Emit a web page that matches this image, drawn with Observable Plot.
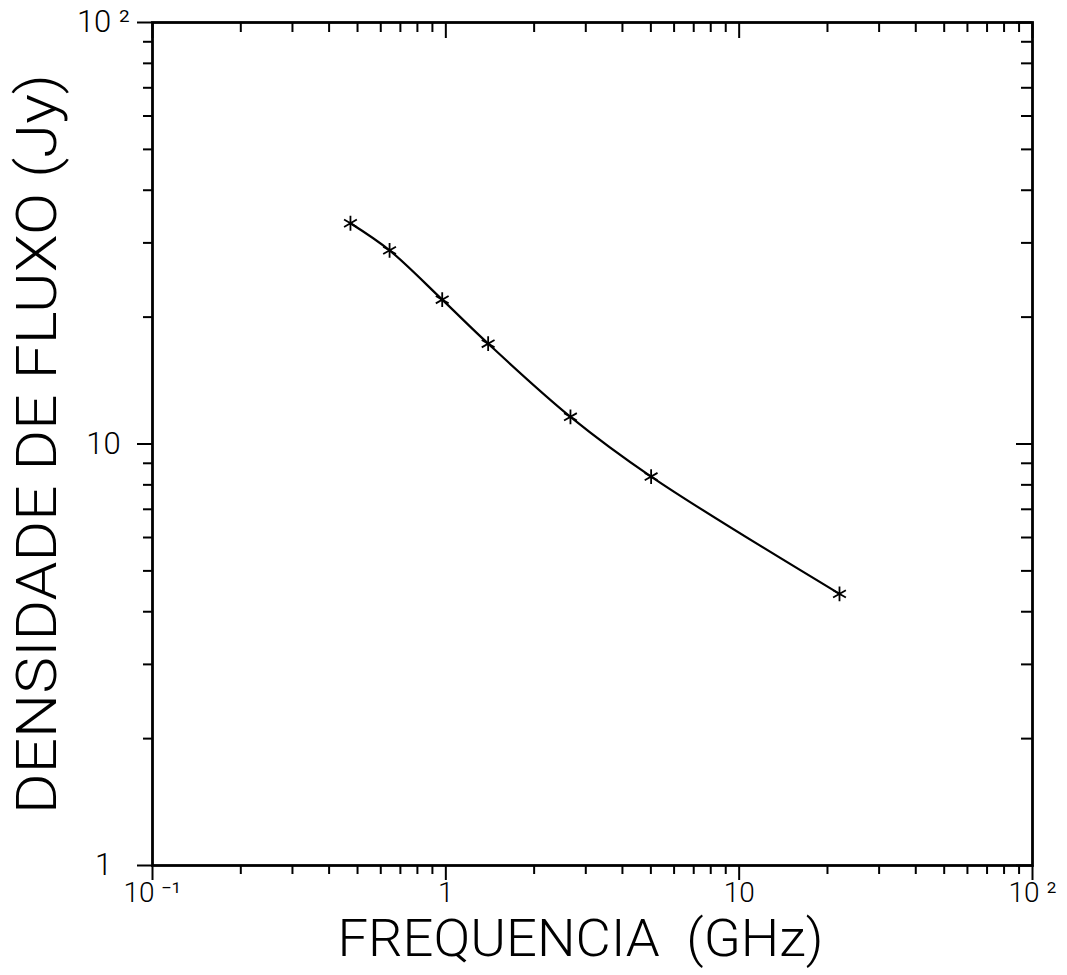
<!DOCTYPE html>
<html><head><meta charset="utf-8">
<script src="https://cdn.jsdelivr.net/npm/d3@7"></script>
<script src="https://cdn.jsdelivr.net/npm/@observablehq/plot@0.6"></script>
<style>body{margin:0;background:#fff;} svg{display:block}</style>
</head><body><div id="chart"></div>
<script>
// Data
const frequencyGHz = [0.473, 0.643, 0.972, 1.394, 2.66, 5.01, 21.98];
const fluxJy = [33.4, 28.8, 22.0, 17.3, 11.6, 8.37, 4.41];
const xMajorTicks = [0.1, 1, 10, 100];
const xMajorLabels = ["10 \u207B\u00B9", "1", "10", "10 \u00B2"];
const yMajorTicks = [1, 10, 100];
const yMajorLabels = ["1", "10", "10 \u00B2"];
const minorMultipliers = [2, 3, 4, 5, 6, 7, 8, 9];
const xTitle = "FREQUENCIA  (GHz)";
const yTitle = "DENSIDADE DE FLUXO (Jy)";

const data = frequencyGHz.map((f, i) => ({f, s: fluxJy[i]}));
const xMinor = [0.1, 1, 10].flatMap(d => minorMultipliers.map(m => d * m));
const yMinor = [1, 10].flatMap(d => minorMultipliers.map(m => d * m));

const W = 1067, H = 975, mt = 22, mr = 35, mb = 110, ml = 152;
const innerW = W - ml - mr, innerH = H - mt - mb;
const font = "Roboto, 'DejaVu Sans', sans-serif";

const plot = Plot.plot({
  width: W, height: H,
  marginTop: mt, marginRight: mr, marginBottom: mb, marginLeft: ml,
  style: {background: "white", fontFamily: font, color: "black", overflow: "visible"},
  x: {type: "log", domain: [0.1, 100], axis: null},
  y: {type: "log", domain: [1, 100], axis: null},
  marks: [
    // bottom axis (outward ticks)
    Plot.axisX(xMajorTicks, {anchor: "bottom", tickSize: 15, tickPadding: 2, strokeWidth: 2,
      fontSize: 28, fontWeight: 300, label: null,
      tickFormat: d => xMajorLabels[xMajorTicks.indexOf(d)]}),
    Plot.axisX(xMinor, {anchor: "bottom", tickSize: 9, strokeWidth: 2, label: null, tickFormat: () => ""}),
    // left axis (outward ticks)
    Plot.axisY(yMajorTicks, {anchor: "left", tickSize: 15, tickPadding: 34, textAnchor: "middle",
      strokeWidth: 2, fontSize: 31, fontWeight: 300, label: null,
      tickFormat: d => yMajorLabels[yMajorTicks.indexOf(d)]}),
    Plot.axisY(yMinor, {anchor: "left", tickSize: 9, strokeWidth: 2, label: null, tickFormat: () => ""}),
    // top axis (inward ticks)
    Plot.tickX(xMinor, {x: d => d, insetBottom: innerH - 10, strokeWidth: 2}),
    Plot.tickX(xMajorTicks, {x: d => d, insetBottom: innerH - 16, strokeWidth: 2}),
    // right axis (inward ticks)
    Plot.tickY(yMinor, {y: d => d, insetLeft: innerW - 11, strokeWidth: 2}),
    Plot.tickY(yMajorTicks, {y: d => d, insetLeft: innerW - 16, strokeWidth: 2}),
    Plot.frame({strokeWidth: 2.8}),
    // data
    Plot.line(data, {x: "f", y: "s", curve: "catmull-rom", strokeWidth: 2.2, stroke: "black"}),
    Plot.dot(data, {x: "f", y: "s", symbol: "asterisk", r: 7, stroke: "black", strokeWidth: 1.8}),
    // titles
    Plot.text([xTitle], {text: d => d, frameAnchor: "bottom", dy: 74, dx: -12,
      fontSize: 52, fontWeight: 300, lineAnchor: "middle", textAnchor: "middle"}),
    Plot.text([yTitle], {text: d => d, frameAnchor: "left", rotate: -90, dx: -114,
      fontSize: 56, fontWeight: 300, lineAnchor: "middle", textAnchor: "middle"})
  ]
});

const svg = d3.select(plot);
svg.selectAll("text").filter(function() { return this.textContent === xTitle; })
  .attr("textLength", 486).attr("lengthAdjust", "spacingAndGlyphs");
svg.selectAll("text").filter(function() { return this.textContent === yTitle; })
  .attr("textLength", 740).attr("lengthAdjust", "spacingAndGlyphs");

document.getElementById("chart").appendChild(plot);
</script>
</body></html>
